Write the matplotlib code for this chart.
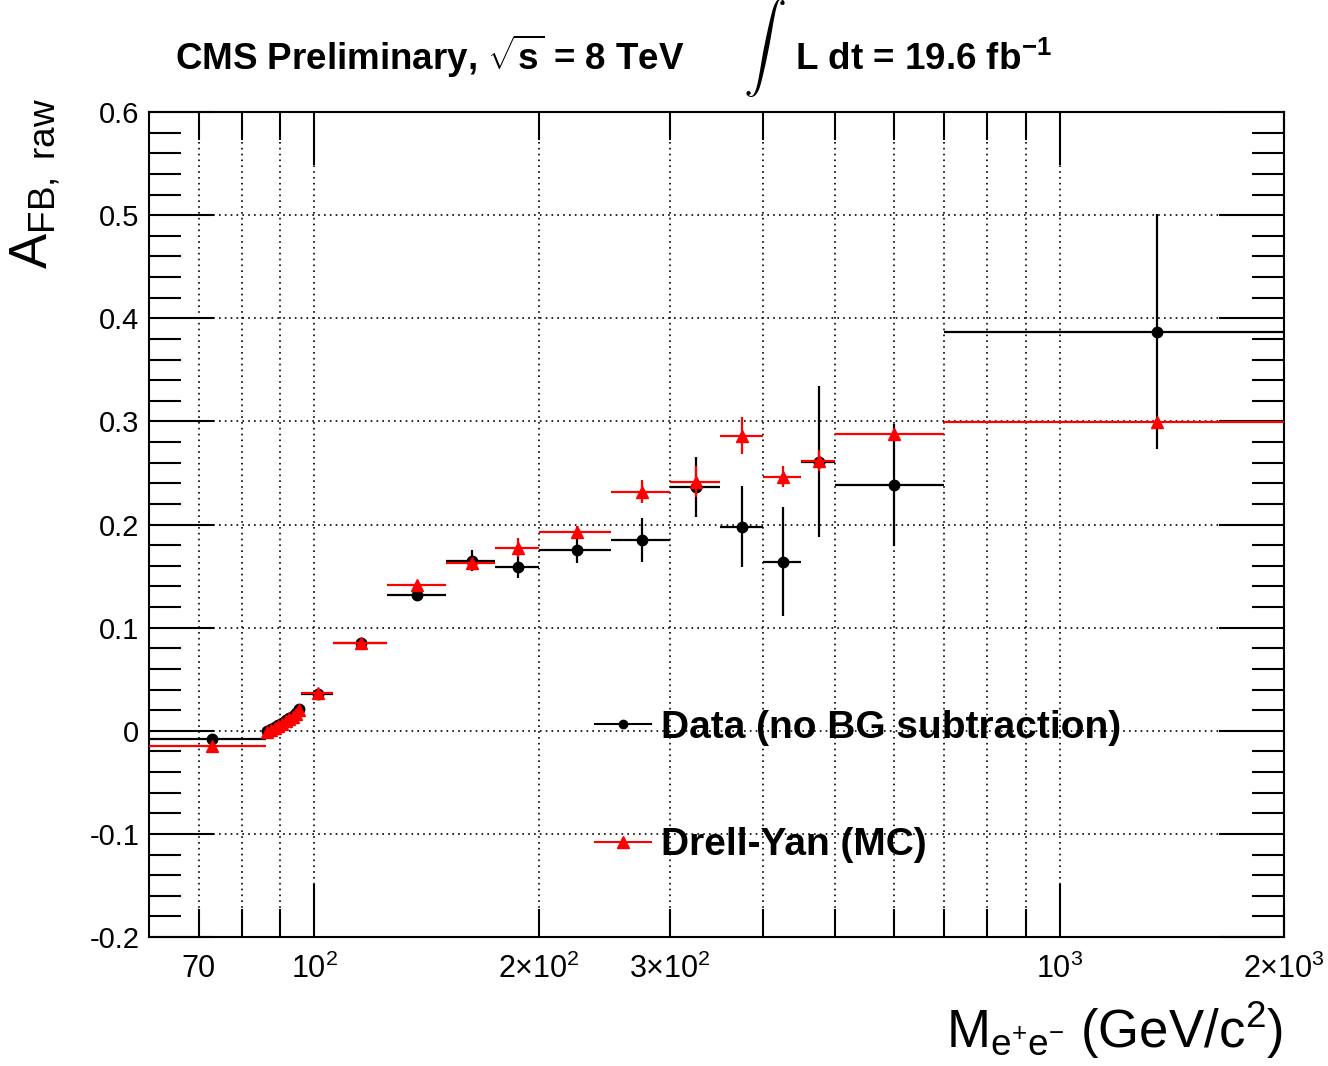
"""A_FB,raw vs dielectron mass — data vs Drell-Yan MC, ROOT-like style."""

import numpy as np
import matplotlib

matplotlib.use("Agg")
import matplotlib.pyplot as plt
from matplotlib.lines import Line2D
from matplotlib.ticker import FixedLocator, FixedFormatter

plt.rcParams["font.family"] = ["Liberation Sans", "DejaVu Sans"]
plt.rcParams["mathtext.fontset"] = "custom"
plt.rcParams["mathtext.rm"] = "Liberation Sans"
plt.rcParams["mathtext.it"] = "Liberation Sans:italic"
plt.rcParams["mathtext.bf"] = "Liberation Sans:bold"
plt.rcParams["axes.unicode_minus"] = False

edges = np.array([60, 86, 87, 88, 89, 90, 91, 92, 93, 94, 95, 96,
                  106, 125, 150, 175, 200, 250, 300, 350, 400, 450, 500, 700, 2000])

afb_data = np.array([-0.008, 0.000, 0.002, 0.004, 0.006, 0.008, 0.010, 0.012,
                     0.014, 0.017, 0.021, 0.036, 0.085, 0.132, 0.165, 0.159,
                     0.175, 0.185, 0.236, 0.198, 0.164, 0.261, 0.238, 0.387])
err_data = np.array([0.003, 0.002, 0.002, 0.002, 0.002, 0.002, 0.002, 0.002,
                     0.002, 0.002, 0.002, 0.003, 0.003, 0.005, 0.010, 0.011,
                     0.012, 0.021, 0.029, 0.039, 0.053, 0.073, 0.059, 0.114])

afb_mc = np.array([-0.015, -0.001, 0.001, 0.003, 0.005, 0.007, 0.009, 0.011,
                   0.013, 0.016, 0.020, 0.037, 0.085, 0.141, 0.163, 0.1775,
                   0.193, 0.232, 0.2415, 0.286, 0.2465, 0.262, 0.288, 0.2997])
err_mc = np.array([0.001, 0.001, 0.001, 0.001, 0.001, 0.001, 0.001, 0.001,
                   0.001, 0.001, 0.001, 0.001, 0.002, 0.003, 0.004, 0.009,
                   0.006, 0.011, 0.015, 0.018, 0.010, 0.010, 0.006, 0.003])

x_major = [100, 1000]
x_major_labels = [r"$10^{2}$", r"$10^{3}$"]
x_minor = [70, 80, 90, 200, 300, 400, 500, 600, 700, 800, 900, 2000]
x_minor_labels = ["70", "", "", r"$2{\times}10^{2}$", r"$3{\times}10^{2}$",
                  "", "", "", "", "", "", r"$2{\times}10^{3}$"]
y_ticks = [-0.2, -0.1, 0.0, 0.1, 0.2, 0.3, 0.4, 0.5, 0.6]
y_labels = ["-0.2", "-0.1", "0", "0.1", "0.2", "0.3", "0.4", "0.5", "0.6"]

centers = 0.5 * (edges[:-1] + edges[1:])
halfw = 0.5 * (edges[1:] - edges[:-1])

# ------------------------------------------------------------ figure
fig = plt.figure(figsize=(13.28, 10.66), dpi=100)
ax = fig.add_axes([0.1122, 0.1210, 0.8547, 0.7739])

ax.errorbar(centers, afb_data, xerr=halfw, yerr=err_data, fmt="o", color="black",
            ms=7.5, elinewidth=1.6, capsize=0, zorder=3)
ax.errorbar(centers, afb_mc, xerr=halfw, yerr=err_mc, fmt="^", color="red",
            ms=8.5, elinewidth=1.6, capsize=0, zorder=4)

ax.set_xscale("log")
ax.set_xlim(60, 2000)
ax.set_ylim(-0.2, 0.6)

ax.xaxis.set_major_locator(FixedLocator(x_major))
ax.xaxis.set_major_formatter(FixedFormatter(x_major_labels))
ax.xaxis.set_minor_locator(FixedLocator(x_minor))
ax.xaxis.set_minor_formatter(FixedFormatter(x_minor_labels))
ax.yaxis.set_major_locator(FixedLocator(y_ticks))
ax.yaxis.set_major_formatter(FixedFormatter(y_labels))
ax.yaxis.set_minor_locator(FixedLocator(np.arange(-0.2, 0.6001, 0.02)))

ax.tick_params(axis="x", which="major", direction="in", length=38, width=1.5,
               top=True, labelsize=22, pad=12)
ax.tick_params(axis="x", which="minor", direction="in", length=20, width=1.5,
               top=True, labelsize=22, pad=12)
ax.tick_params(axis="y", which="major", direction="in", length=47, width=1.5,
               right=True, labelsize=21, pad=7)
ax.tick_params(axis="y", which="minor", direction="in", length=23, width=1.5,
               right=True)

grid_kw = dict(color="black", linestyle=(0, (1, 2.5)), linewidth=1.2)
ax.xaxis.grid(True, which="both", **grid_kw)
ax.yaxis.grid(True, which="major", **grid_kw)
ax.set_axisbelow(True)
for s in ax.spines.values():
    s.set_linewidth(1.5)

# ------------------------------------------------------------ legend
handles = [Line2D([], [], color="black", marker="o", ms=6, lw=1.5),
           Line2D([], [], color="red", marker="^", ms=8, lw=1.5)]
ax.legend(handles, ["Data (no BG subtraction)", "Drell-Yan (MC)"],
          loc="center left", bbox_to_anchor=(0.393, 0.1825), frameon=False,
          prop=dict(family="Liberation Sans", weight="bold", size=28),
          handlelength=1.45, handletextpad=0.25, labelspacing=2.1,
          borderaxespad=0, borderpad=0)

# ------------------------------------------------------------ labels
fig.text(35 / 1328, 1 - 98 / 1066, r"A$_{\rm FB,\ raw}$", rotation=90,
         ha="center", va="top", fontsize=38)
fig.text(1283 / 1328, 18 / 1066, r"M$_{\rm e^{+}e^{-}}$ (GeV/c$^{2}$)",
         ha="right", va="baseline", fontsize=38)

fig.text(175 / 1328, 1 - 70 / 1066, r"CMS Preliminary, $\sqrt{\mathbf{s}}$ = 8 TeV",
         ha="left", va="baseline", fontsize=26.5, fontweight="bold")
fig.text(764 / 1328, 1 - 49 / 1066, r"$\int$", ha="center", va="center",
         fontsize=31, math_fontfamily="cm")
fig.text(795 / 1328, 1 - 70 / 1066, r"L dt = 19.6 fb$^{\mathbf{-1}}$",
         ha="left", va="baseline", fontsize=26.5, fontweight="bold")

fig.savefig("out.png", dpi=100)
